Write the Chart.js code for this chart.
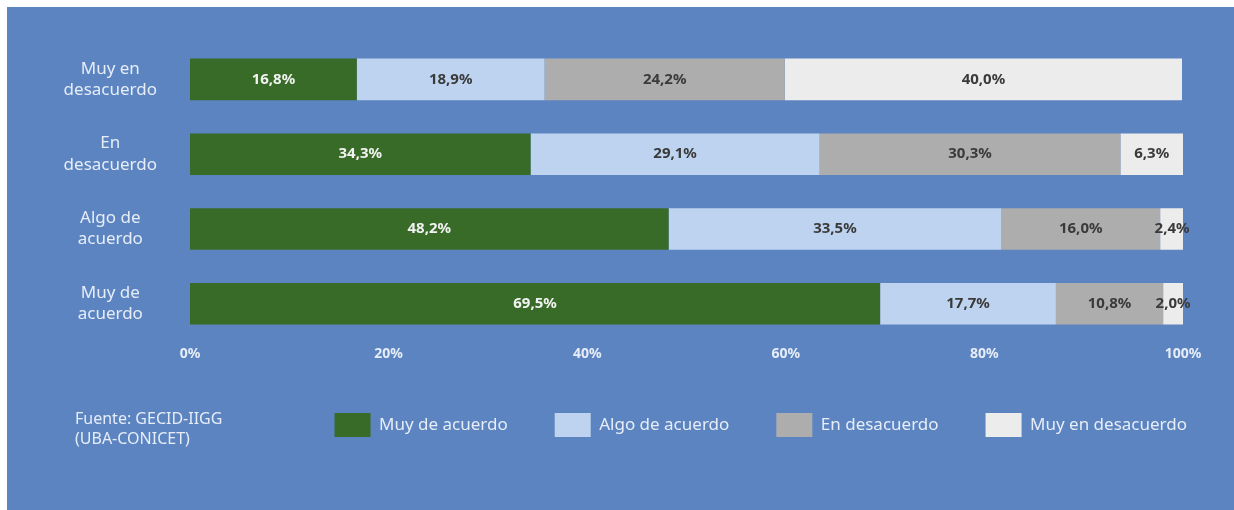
<!DOCTYPE html>
<html>
<head>
<meta charset="utf-8">
<script src="https://cdn.jsdelivr.net/npm/chart.js@4/dist/chart.umd.min.js"></script>
<style>
  html, body { margin: 0; padding: 0; background: #ffffff; }
  #wrap {
    position: absolute; left: 7px; top: 7px; width: 1227px; height: 503px;
    background: #5c84c1;
  }
</style>
</head>
<body>
<div id="wrap"><canvas id="opinionChart"></canvas></div>
<script>
const categories = [
    ['Muy en', 'desacuerdo'],
    ['En', 'desacuerdo'],
    ['Algo de', 'acuerdo'],
    ['Muy de', 'acuerdo']
];
const seriesNames = ['Muy de acuerdo', 'Algo de acuerdo', 'En desacuerdo', 'Muy en desacuerdo'];
const muyDeAcuerdo = [16.8, 34.3, 48.2, 69.5];
const algoDeAcuerdo = [18.9, 29.1, 33.5, 17.7];
const enDesacuerdo = [24.2, 30.3, 16.0, 10.8];
const muyEnDesacuerdo = [40.0, 6.3, 2.4, 2.0];
const xTicks = [0, 20, 40, 60, 80, 100];
const sourceLines = ['Fuente: GECID-IIGG', '(UBA-CONICET)'];

const colors = ['#386b27', '#bed3f0', '#adadad', '#ececec'];
const labelColors = ['#f2f2f2', '#3a3a3a', '#3a3a3a', '#3a3a3a'];
const lightText = '#e6edf7';

// value labels inside each segment
const barLabels = {
    id: 'barLabels',
    afterDatasetsDraw(chart) {
        const ctx = chart.ctx;
        ctx.save();
        ctx.font = 'bold 15px "Noto Sans"';
        ctx.textAlign = 'center';
        ctx.textBaseline = 'middle';
        chart.data.datasets.forEach((ds, i) => {
            const meta = chart.getDatasetMeta(i);
            meta.data.forEach((bar, j) => {
                const v = ds.data[j];
                ctx.fillStyle = labelColors[i];
                ctx.fillText(v.toFixed(1).replace('.', ',') + '%', (bar.x + bar.base) / 2, bar.y);
            });
        });
        ctx.restore();
    }
};

// source note at bottom left
const sourceNote = {
    id: 'sourceNote',
    afterDraw(chart) {
        const ctx = chart.ctx;
        const leg = chart.legend;
        ctx.save();
        ctx.font = '16px "Noto Sans"';
        ctx.fillStyle = lightText;
        ctx.textAlign = 'left';
        ctx.textBaseline = 'middle';
        const y0 = leg.top + 47 + 6;
        sourceLines.forEach((t, k) => ctx.fillText(t, 68, y0 + k * 20));
        ctx.restore();
    }
};

const ctx = document.getElementById('opinionChart').getContext('2d');

const data = {
    labels: categories,
    datasets: [muyDeAcuerdo, algoDeAcuerdo, enDesacuerdo, muyEnDesacuerdo].map((vals, i) => ({
        label: seriesNames[i],
        data: vals,
        backgroundColor: colors[i],
        borderWidth: 0,
        barPercentage: 0.556,
        categoryPercentage: 1
    }))
};

const options = {
    indexAxis: 'y',
    responsive: true,
    maintainAspectRatio: false,
    animation: false,
    layout: { padding: { left: 56, right: 0, top: 35, bottom: 63 } },
    scales: {
        x: {
            stacked: true,
            min: 0,
            max: 100,
            afterBuildTicks: (scale) => { scale.ticks = xTicks.map(v => ({ value: v })); },
            grid: { display: false, drawTicks: false },
            border: { display: false },
            ticks: {
                color: lightText,
                font: { family: 'Noto Sans', size: 14, weight: 'bold' },
                padding: 4,
                maxRotation: 0,
                callback: (v) => v + '%'
            }
        },
        y: {
            stacked: true,
            grid: { display: false, drawTicks: false },
            border: { display: false },
            ticks: {
                color: lightText,
                crossAlign: 'center',
                padding: 33,
                font: { family: 'Noto Sans', size: 17, lineHeight: 1.25 }
            },
            afterFit: (scale) => {
                scale.width = 127;
                scale.paddingTop = 0;
                scale.paddingBottom = 0;
            }
        },
        yRight: {
            position: 'right',
            type: 'category',
            labels: [''],
            grid: { display: false, drawTicks: false },
            border: { display: false },
            ticks: { display: false },
            afterFit: (scale) => { scale.width = 51; scale.paddingTop = 0; scale.paddingBottom = 0; }
        }
    },
    plugins: {
        legend: {
            position: 'bottom',
            align: 'end',
            labels: {
                boxWidth: 36,
                boxHeight: 24,
                padding: 47,
                color: lightText,
                font: { family: 'Noto Sans', size: 17 }
            }
        },
        tooltip: { enabled: false }
    }
};

new Chart(ctx, {
    type: 'bar',
    data: data,
    options: options,
    plugins: [barLabels, sourceNote]
});
</script>
</body>
</html>
